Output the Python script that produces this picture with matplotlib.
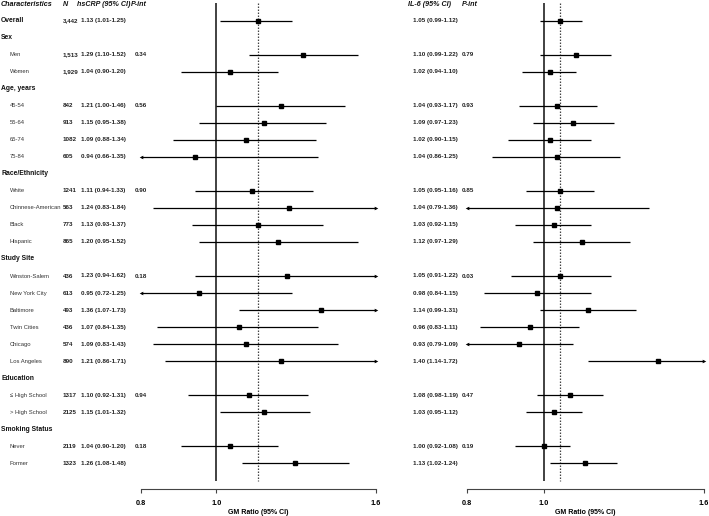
import numpy as np
import matplotlib
matplotlib.use("Agg")
import matplotlib.pyplot as plt
from matplotlib.ticker import FixedLocator, NullLocator, FixedFormatter
from matplotlib.transforms import blended_transform_factory

nan = np.nan

labels = ["Overall", "Sex", "Men", "Women", "Age, years", "45-54", "55-64", "65-74", "75-84",
          "Race/Ethnicity", "White", "Chinnese-American", "Black", "Hispanic",
          "Study Site", "Winston-Salem", "New York City", "Baltimore", "Twin Cities", "Chicago",
          "Los Angeles", "Education", "\u2264 High School", "> High School",
          "Smoking Status", "Never", "Former"]
group_rows = ["Overall", "Sex", "Age, years", "Race/Ethnicity", "Study Site", "Education",
              "Smoking Status"]

n_vals = ["3,442", "", "1,513", "1,929", "", "842", "913", "1082", "605", "",
          "1241", "563", "773", "865", "", "436", "613", "493", "436", "574", "890", "",
          "1317", "2125", "", "2119", "1323"]

crp_est = [1.13, nan, 1.29, 1.04, nan, 1.21, 1.15, 1.09, 0.94, nan, 1.11, 1.24, 1.13, 1.20,
           nan, 1.23, 0.95, 1.36, 1.07, 1.09, 1.21, nan, 1.10, 1.15, nan, 1.04, 1.26]
crp_lo = [1.01, nan, 1.10, 0.90, nan, 1.00, 0.95, 0.88, 0.66, nan, 0.94, 0.83, 0.93, 0.95,
          nan, 0.94, 0.72, 1.07, 0.84, 0.83, 0.86, nan, 0.92, 1.01, nan, 0.90, 1.08]
crp_hi = [1.25, nan, 1.52, 1.20, nan, 1.46, 1.38, 1.34, 1.35, nan, 1.33, 1.84, 1.37, 1.52,
          nan, 1.62, 1.25, 1.73, 1.35, 1.43, 1.71, nan, 1.31, 1.32, nan, 1.20, 1.48]
crp_p = ["", "", "0.34", "", "", "0.56", "", "", "", "", "0.90", "", "", "", "",
         "0.18", "", "", "", "", "", "", "0.94", "", "", "0.18", ""]

il6_est = [1.05, nan, 1.10, 1.02, nan, 1.04, 1.09, 1.02, 1.04, nan, 1.05, 1.04, 1.03, 1.12,
           nan, 1.05, 0.98, 1.14, 0.96, 0.93, 1.40, nan, 1.08, 1.03, nan, 1.00, 1.13]
il6_lo = [0.99, nan, 0.99, 0.94, nan, 0.93, 0.97, 0.90, 0.86, nan, 0.95, 0.79, 0.92, 0.97,
          nan, 0.91, 0.84, 0.99, 0.83, 0.79, 1.14, nan, 0.98, 0.95, nan, 0.92, 1.02]
il6_hi = [1.12, nan, 1.22, 1.10, nan, 1.17, 1.23, 1.15, 1.25, nan, 1.16, 1.36, 1.15, 1.29,
          nan, 1.22, 1.15, 1.31, 1.11, 1.09, 1.72, nan, 1.19, 1.12, nan, 1.08, 1.24]
il6_p = ["", "", "0.79", "", "", "0.93", "", "", "", "", "0.85", "", "", "", "",
         "0.03", "", "", "", "", "", "", "0.47", "", "", "0.19", ""]

xticks = [0.8, 1.0, 1.6]
xtick_labels = ["0.8", "1.0", "1.6"]
xlabel = "GM Ratio (95% CI)"

W, H = 709, 516
plt.rcParams['font.family'] = ['Liberation Sans', 'DejaVu Sans']
fig = plt.figure(figsize=(W / 100, H / 100), dpi=100)

ax_bottom_px = 489.3
row0_px = 20.7
row_step = 17.02
y_bot = (ax_bottom_px - row0_px) / row_step
y_top = -row0_px / row_step

def make_ax(x0_px, x1_px):
    ax = fig.add_axes([x0_px / W, (H - ax_bottom_px) / H, (x1_px - x0_px) / W, ax_bottom_px / H])
    ax.set_xscale('log')
    ax.set_xlim(0.8, 1.6)
    ax.set_ylim(y_bot, y_top)
    for s in ['top', 'left', 'right']:
        ax.spines[s].set_visible(False)
    ax.spines['bottom'].set_color('#444444')
    ax.spines['bottom'].set_linewidth(0.8)
    ax.xaxis.set_major_locator(FixedLocator(xticks))
    ax.xaxis.set_major_formatter(FixedFormatter(xtick_labels))
    ax.xaxis.set_minor_locator(NullLocator())
    ax.tick_params(axis='x', direction='out', length=3, width=0.8, color='#444444',
                   pad=4.5, labelsize=5.3)
    for t in ax.get_xticklabels():
        t.set_fontweight('bold')
    ax.set_yticks([])
    ax.set_xlabel(xlabel, fontsize=5.0, fontweight='bold', labelpad=1.5)
    ax.patch.set_alpha(0)
    return ax

def draw_forest(ax, est, lo, hi):
    est = np.array(est); lo = np.array(lo); hi = np.array(hi)
    rows = np.arange(len(est))
    xmin, xmax = ax.get_xlim()
    yl = (3 - row0_px) / row_step
    yh = (481 - row0_px) / row_step
    ax.plot([1.0, 1.0], [yl, yh], color='#333333', lw=1.3, zorder=2, solid_capstyle='butt')
    ov = est[0]
    ax.plot([ov, ov], [yl, yh], color='#444444', lw=0.9, ls=(0, (1.2, 1.2)), zorder=2)
    for r in rows:
        if np.isnan(est[r]):
            continue
        l = max(lo[r], xmin)
        h = min(hi[r], xmax)
        ax.plot([l, h], [r, r], color='black', lw=0.9, zorder=3, clip_on=False,
                solid_capstyle='butt')
        ax.plot(est[r], r, marker='s', ms=3.1, color='black', zorder=4, clip_on=False)
        if lo[r] < xmin:
            ax.plot(xmin, r, marker='<', ms=2.6, color='black', zorder=4, clip_on=False,
                    markeredgewidth=0)
        if hi[r] > xmax:
            ax.plot(xmax, r, marker='>', ms=2.6, color='black', zorder=4, clip_on=False,
                    markeredgewidth=0)

ax1 = make_ax(140.7, 375.7)
ax2 = make_ax(467.3, 704.0)
draw_forest(ax1, crp_est, crp_lo, crp_hi)
draw_forest(ax2, il6_est, il6_lo, il6_hi)

tr = blended_transform_factory(fig.transFigure, ax1.transData)
hdr_y = (4.6 - row0_px) / row_step
hdr_kw = dict(transform=tr, fontsize=5.1, fontweight='bold', fontstyle='italic',
              va='center', ha='left', color='#111111')
fig.text(1 / W, hdr_y, "Characteristics", **hdr_kw)
fig.text(63 / W, hdr_y, "N", **hdr_kw)
fig.text(77 / W, hdr_y, "hsCRP (95% CI)", **hdr_kw)
fig.text(130.5 / W, hdr_y, "P-int", **hdr_kw)
fig.text(407.7 / W, hdr_y, "IL-6 (95% CI)", **hdr_kw)
fig.text(462 / W, hdr_y, "P-int", **hdr_kw)

num_kw = dict(transform=tr, fontsize=4.5, fontweight='bold', va='center', ha='left',
              color='#222222')
for r, lab in enumerate(labels):
    if lab in group_rows:
        fig.text(1 / W, r, lab, transform=tr, fontsize=4.9, fontweight='bold',
                 va='center', ha='left', color='#111111')
    else:
        fig.text(10 / W, r, lab, transform=tr, fontsize=4.25, va='center', ha='left',
                 color='#333333')
    if n_vals[r]:
        fig.text(63 / W, r, n_vals[r], **num_kw)
    if not np.isnan(crp_est[r]):
        fig.text(81 / W, r, f"{crp_est[r]:.2f} ({crp_lo[r]:.2f}-{crp_hi[r]:.2f})", **num_kw)
    if crp_p[r]:
        fig.text(135 / W, r, crp_p[r], **num_kw)
    if not np.isnan(il6_est[r]):
        fig.text(413.3 / W, r, f"{il6_est[r]:.2f} ({il6_lo[r]:.2f}-{il6_hi[r]:.2f})", **num_kw)
    if il6_p[r]:
        fig.text(462 / W, r, il6_p[r], **num_kw)

fig.savefig("out.png", dpi=100)
